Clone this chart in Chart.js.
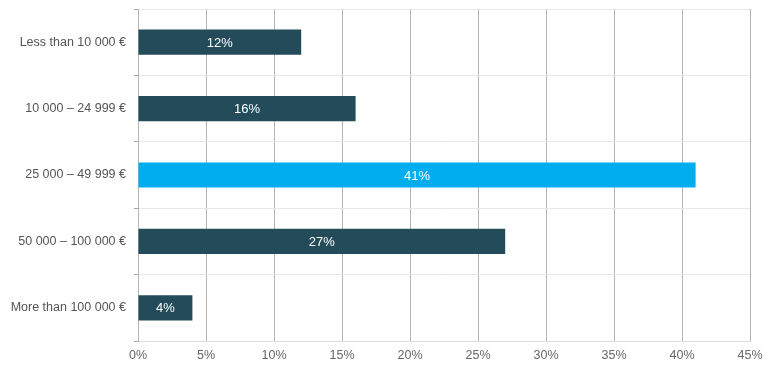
<!DOCTYPE html>
<html>
<head>
<meta charset="utf-8">
<script src="https://cdn.jsdelivr.net/npm/chart.js@4"></script>
<style>
  body { margin: 0; background: #fff; }
  #wrap { width: 771px; height: 368px; }
</style>
</head>
<body>
<div id="wrap"><canvas id="chart" width="771" height="368"></canvas></div>
<script>
const categories = [`Less than 10 000 €`, `10 000 – 24 999 €`, `25 000 – 49 999 €`, `50 000 – 100 000 €`, `More than 100 000 €`];
const shares = [12, 16, 41, 27, 4];
const barColors = [`#234b5a`, `#234b5a`, `#00aeef`, `#234b5a`, `#234b5a`];
const xTicks = [0, 5, 10, 15, 20, 25, 30, 35, 40, 45];

// draws the value inside each bar
const valueLabels = {
  id: `valueLabels`,
  afterDatasetsDraw(chart) {
    const ctx = chart.ctx;
    const meta = chart.getDatasetMeta(0);
    ctx.save();
    ctx.font = `13px "Liberation Sans", Arial, sans-serif`;
    ctx.fillStyle = `#ffffff`;
    ctx.textAlign = `center`;
    ctx.textBaseline = `middle`;
    meta.data.forEach((bar, i) => {
      const x = (bar.base + bar.x) / 2;
      ctx.fillText(shares[i] + `%`, x, bar.y + 1);
    });
    ctx.restore();
  }
};

new Chart(document.getElementById(`chart`).getContext(`2d`), {
  type: `bar`,
  data: {
    labels: categories,
    datasets: [{
      data: shares,
      backgroundColor: barColors,
      barPercentage: 0.76,
      categoryPercentage: 0.5
    }]
  },
  options: {
    indexAxis: `y`,
    responsive: false,
    animation: false,
    layout: { padding: { top: 9, right: 21, left: 0, bottom: 0 } },
    plugins: {
      legend: { display: false },
      tooltip: { enabled: false }
    },
    scales: {
      x: {
        min: 0,
        max: 45,
        afterBuildTicks: (s) => { s.ticks = xTicks.map(v => ({ value: v })); },
        afterFit: (s) => { s.height = 27; },
        grid: { color: `#b4b4b4`, drawTicks: false },
        border: { color: `#dddddd` },
        ticks: {
          padding: 7,
          color: `#666`,
          font: { family: `"Liberation Sans", Arial, sans-serif`, size: 12.5 },
          callback: (v) => v + `%`
        }
      },
      y: {
        afterFit: (s) => { s.width = 138; s.paddingTop = 0; s.paddingBottom = 0; },
        grid: { color: `#e8e8e8`, tickColor: `#aaaaaa`, tickLength: 4, offset: true },
        border: { color: `#b4b4b4` },
        ticks: {
          padding: 8,
          color: `#555`,
          font: { family: `"Liberation Sans", Arial, sans-serif`, size: 12.5 }
        }
      }
    }
  },
  plugins: [valueLabels]
});
</script>
</body>
</html>
